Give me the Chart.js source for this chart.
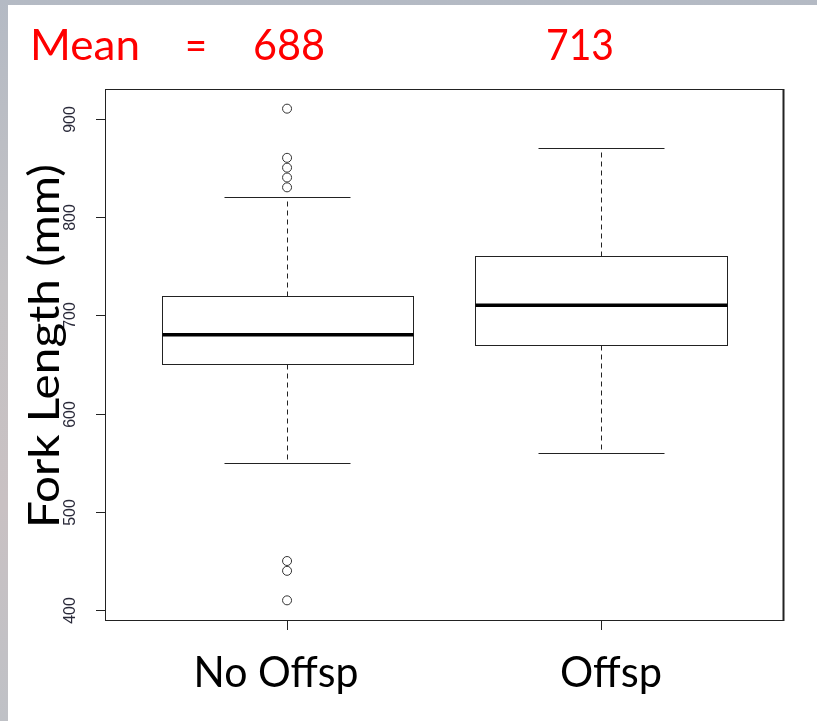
<!DOCTYPE html>
<html>
<head>
<meta charset="utf-8">
<script src="https://cdn.jsdelivr.net/npm/chart.js@4.4.1/dist/chart.umd.min.js"></script>
<style>
  html, body { margin: 0; padding: 0; background: #fff; }
  #wrap { width: 817px; height: 721px; }
</style>
</head>
<body>
<div id="wrap"><canvas id="chart" width="817" height="721"></canvas></div>
<script>
// Box plot data (Fork Length, mm)
const groups = ['No Offsp', 'Offsp'];
const groupPos = [1, 2];
const lowerWhisker = [550, 560];
const q1 = [650, 670];
const median = [680, 710];
const q3 = [720, 760];
const upperWhisker = [820, 870];
const outliersNoOffsp = [910, 860, 850, 840, 830, 450, 440, 410];
const outliersOffsp = [];
const means = [688, 713];
const yTicks = [400, 500, 600, 700, 800, 900];

const BOX_WIDTH = 0.8;
const CAP_WIDTH = 0.4;
const TEXT_FONT = 'Lato, "Open Sans", sans-serif';
const TEXT_SIZE = 42;

// Build scatter points for the outliers
const outlierPoints = [];
outliersNoOffsp.forEach(v => outlierPoints.push({ x: groupPos[0], y: v }));
outliersOffsp.forEach(v => outlierPoints.push({ x: groupPos[1], y: v }));

// Draw text at a fixed size, squeezed horizontally to a target width (Calibri look)
function drawSqueezed(ctx, text, x, y, width, align) {
    ctx.font = TEXT_SIZE + 'px ' + TEXT_FONT;
    const w = ctx.measureText(text).width;
    const k = width / w;
    ctx.save();
    ctx.translate(x, y);
    ctx.scale(k, 1);
    ctx.textAlign = align;
    ctx.fillText(text, 0, 0);
    ctx.restore();
}

// Slide background: photo edge strips plus white slide
const slideBackground = {
    id: 'slideBackground',
    beforeDraw(chart) {
        const ctx = chart.ctx;
        ctx.save();
        const g = ctx.createLinearGradient(0, 0, 0, chart.height);
        g.addColorStop(0, '#b4bac4');
        g.addColorStop(0.4, '#c4c2c4');
        g.addColorStop(0.7, '#c9c1c3');
        g.addColorStop(1, '#bfc1c6');
        ctx.fillStyle = g;
        ctx.fillRect(0, 0, chart.width, chart.height);
        ctx.fillStyle = '#ffffff';
        ctx.fillRect(8, 5, chart.width - 8, chart.height - 5);
        ctx.restore();
    }
};

// Draw boxes, whiskers and medians through the chart scales
const boxplotPlugin = {
    id: 'boxplot',
    beforeDatasetsDraw(chart) {
        const ctx = chart.ctx;
        const xs = chart.scales.x;
        const ys = chart.scales.y;
        const py = v => Math.round(ys.getPixelForValue(v)) + 0.5;
        ctx.save();
        groupPos.forEach((pos, i) => {
            const xc = Math.round(xs.getPixelForValue(pos)) + 0.5;
            const xl = Math.round(xs.getPixelForValue(pos - BOX_WIDTH / 2)) + 0.5;
            const xr = Math.round(xs.getPixelForValue(pos + BOX_WIDTH / 2)) + 0.5;
            const cl = Math.round(xs.getPixelForValue(pos - CAP_WIDTH / 2)) + 0.5;
            const cr = Math.round(xs.getPixelForValue(pos + CAP_WIDTH / 2)) + 0.5;

            ctx.strokeStyle = '#222';
            ctx.lineWidth = 1;

            // dashed whiskers
            ctx.setLineDash([5, 4]);
            ctx.beginPath();
            ctx.moveTo(xc, py(q3[i]));
            ctx.lineTo(xc, py(upperWhisker[i]));
            ctx.moveTo(xc, py(q1[i]));
            ctx.lineTo(xc, py(lowerWhisker[i]));
            ctx.stroke();
            ctx.setLineDash([]);

            // whisker caps
            ctx.beginPath();
            ctx.moveTo(cl, py(upperWhisker[i]));
            ctx.lineTo(cr, py(upperWhisker[i]));
            ctx.moveTo(cl, py(lowerWhisker[i]));
            ctx.lineTo(cr, py(lowerWhisker[i]));
            ctx.stroke();

            // box
            ctx.fillStyle = '#ffffff';
            ctx.fillRect(xl, py(q3[i]), xr - xl, py(q1[i]) - py(q3[i]));
            ctx.strokeRect(xl, py(q3[i]), xr - xl, py(q1[i]) - py(q3[i]));

            // median
            ctx.strokeStyle = '#000';
            ctx.lineWidth = 3.5;
            ctx.beginPath();
            ctx.moveTo(xl, ys.getPixelForValue(median[i]));
            ctx.lineTo(xr, ys.getPixelForValue(median[i]));
            ctx.stroke();
        });
        ctx.restore();
    }
};

// Frame, axis ticks and slide text
const annotationText = {
    id: 'annotationText',
    afterDraw(chart) {
        const ctx = chart.ctx;
        const xs = chart.scales.x;
        const ys = chart.scales.y;
        const a = chart.chartArea;
        ctx.save();

        // plot frame
        ctx.strokeStyle = '#222';
        ctx.lineWidth = 1;
        ctx.strokeRect(Math.round(a.left) + 0.5, Math.round(a.top) + 0.5,
            Math.round(a.right - a.left), Math.round(a.bottom - a.top));
        ctx.lineWidth = 2;
        ctx.beginPath();
        ctx.moveTo(Math.round(a.right) + 0.5, a.top);
        ctx.lineTo(Math.round(a.right) + 0.5, a.bottom + 1);
        ctx.stroke();

        // y ticks and rotated labels
        ctx.lineWidth = 1;
        ctx.strokeStyle = '#222';
        ctx.fillStyle = '#2a2a3a';
        ctx.font = '16px "Liberation Sans", Arial, sans-serif';
        ctx.textAlign = 'center';
        ctx.textBaseline = 'middle';
        yTicks.forEach(t => {
            const y = Math.round(ys.getPixelForValue(t)) + 0.5;
            ctx.beginPath();
            ctx.moveTo(a.left - 9, y);
            ctx.lineTo(a.left, y);
            ctx.stroke();
            ctx.save();
            ctx.translate(71, y);
            ctx.rotate(-Math.PI / 2);
            ctx.fillText(String(t), 0, 0);
            ctx.restore();
        });

        // x ticks
        groupPos.forEach(p => {
            const x = Math.round(xs.getPixelForValue(p)) + 0.5;
            ctx.beginPath();
            ctx.moveTo(x, a.bottom);
            ctx.lineTo(x, a.bottom + 10);
            ctx.stroke();
        });

        // group labels
        ctx.fillStyle = '#000';
        ctx.textBaseline = 'alphabetic';
        drawSqueezed(ctx, groups[0], 276, 687, 165, 'center');
        drawSqueezed(ctx, groups[1], 611, 687, 102, 'center');

        // y axis title
        ctx.save();
        ctx.translate(59, 346);
        ctx.rotate(-Math.PI / 2);
        drawSqueezed(ctx, 'Fork Length (mm)', 0, 0, 364, 'center');
        ctx.restore();

        // mean values in red
        ctx.fillStyle = '#ff0000';
        drawSqueezed(ctx, 'Mean', 30, 60, 110, 'left');
        drawSqueezed(ctx, '=', 196, 60, 22, 'center');
        drawSqueezed(ctx, String(means[0]), 289, 60, 72, 'center');
        drawSqueezed(ctx, String(means[1]), 580, 60, 68, 'center');

        ctx.restore();
    }
};

const ctx = document.getElementById('chart').getContext('2d');
new Chart(ctx, {
    type: 'scatter',
    data: {
        datasets: [{
            data: outlierPoints,
            pointStyle: 'circle',
            pointRadius: 4.5,
            borderColor: '#333',
            backgroundColor: 'rgba(0,0,0,0)',
            borderWidth: 1
        }]
    },
    options: {
        responsive: false,
        animation: false,
        events: [],
        layout: { padding: { left: 105, top: 89, right: 34, bottom: 101 } },
        plugins: { legend: { display: false }, tooltip: { enabled: false } },
        scales: {
            x: { type: 'linear', min: 0.42, max: 2.58, display: false },
            y: { type: 'linear', min: 390, max: 930, display: false }
        }
    },
    plugins: [slideBackground, boxplotPlugin, annotationText]
});
</script>
</body>
</html>
